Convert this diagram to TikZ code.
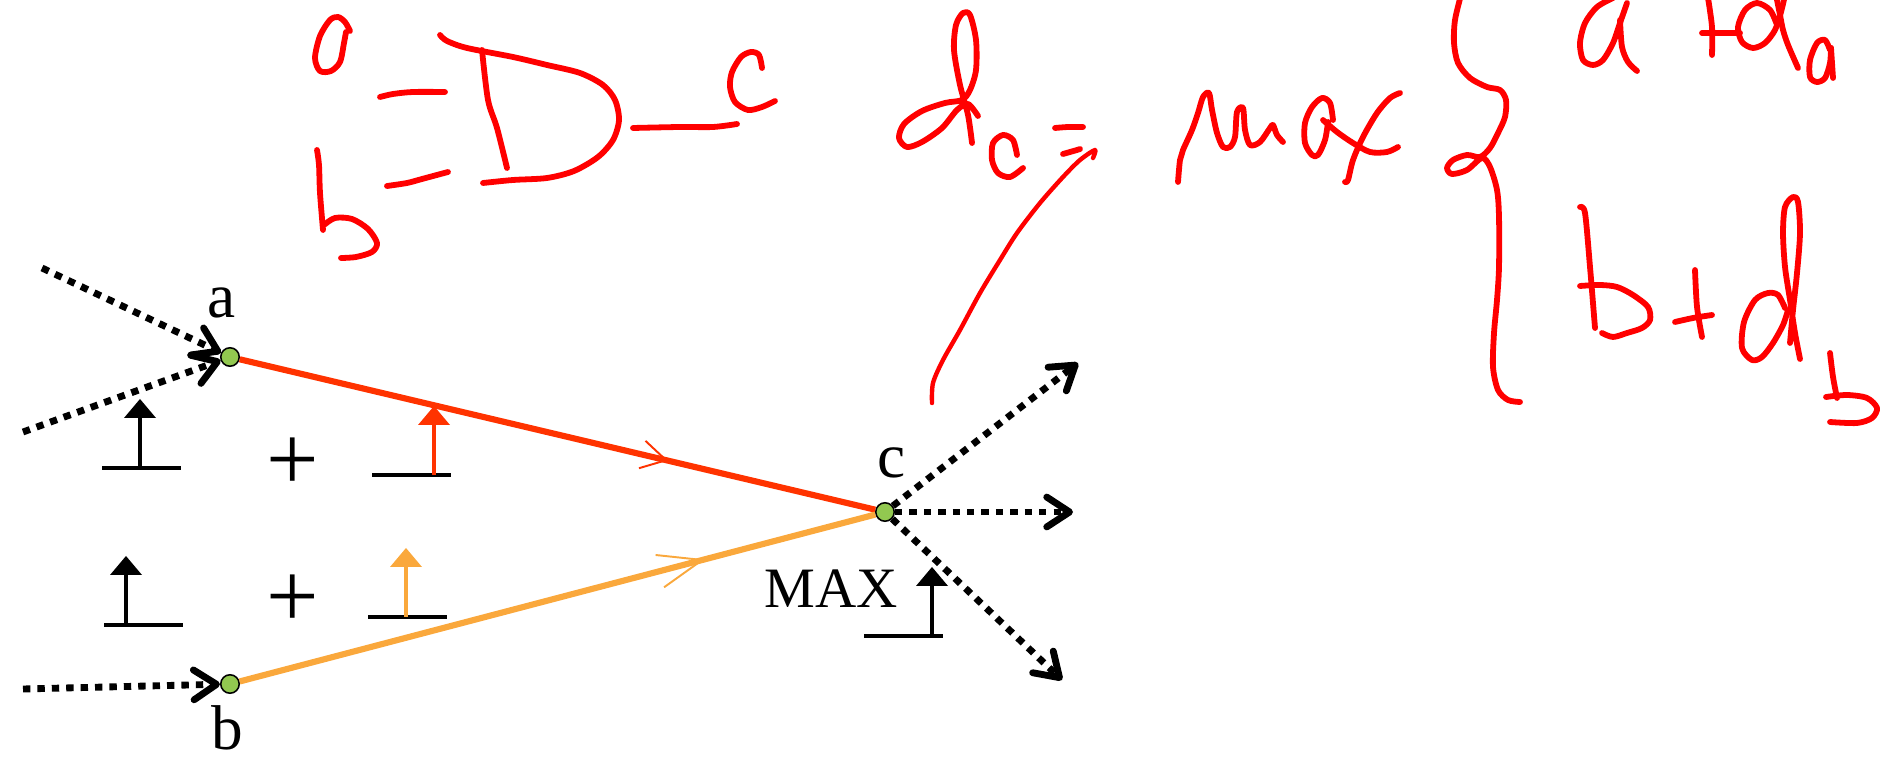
\documentclass[tikz,border=0pt]{standalone}
\usepackage{fontspec}
\setmainfont{Liberation Serif}
\usetikzlibrary{arrows.meta,decorations.markings}

\definecolor{edgered}{RGB}{255,51,0}
\definecolor{edgeorange}{RGB}{250,168,60}
\definecolor{dotgreen}{RGB}{146,200,80}
\definecolor{inkred}{RGB}{255,0,0}

\tikzset{
  gdot/.style={circle, draw=black, fill=dotgreen, line width=0.9pt, minimum size=10.5pt, inner sep=0pt},
  lbl/.style={font=\fontsize{36}{40}\selectfont, inner sep=0pt, anchor=base},
  plus/.style={font=\fontsize{53}{56}\selectfont, inner sep=0pt},
  dotarrow/.style={line width=3.9pt, dash pattern=on 4.2pt off 4pt,
    -{Straight Barb[length=13pt,width=17pt,round]}},
  midmark/.style 2 args={postaction={decorate, decoration={markings,
    mark=at position #1 with {\arrow{#2}}}}},
  redge/.style={edgered, line width=3.5pt,
    midmark={0.674}{Straight Barb[length=14pt,width=16pt,line width=1.1pt]}},
  oedge/.style={edgeorange, line width=3.5pt,
    midmark={0.732}{Straight Barb[length=25pt,width=19pt,line width=1.1pt]}},
  ink/.style={draw=inkred, line width=3.3pt, line cap=round, line join=round},
  thinink/.style={ink, line width=2.5pt},
  pics/stepmark/.style 2 args={code={
    \draw[black, line width=2.6pt] (-#2,0) -- ({79-#2},0);
    \draw[#1, line width=1.9pt] (0,0) -- (0,-52);
    \fill[#1] (-16,-50) -- (16,-50) -- (0,-69) -- cycle;
  }}
}

\begin{document}
\begin{tikzpicture}[x=0.02cm, y=-0.02cm]
  \useasboundingbox (0,0) rectangle (1903,759);

  % Gate inputs and output
  \node[gdot] (a) at (230,357) {};
  \node[gdot] (b) at (230,684) {};
  \node[gdot] (c) at (885,512) {};
  \node[lbl] (alabel) at (222,318) {a};
  \node[lbl] (blabel) at (227,749) {b};
  \node[lbl] (clabel) at (892,478) {c};

  % Incoming and outgoing wires
  \coordinate (ain1) at (42,268);
  \coordinate (ain2) at (23,432);
  \coordinate (bin) at (23,689);
  \coordinate (cout1) at (1078,363);
  \coordinate (cout2) at (1073,512);
  \coordinate (cout3) at (1062,680);
  \draw[dotarrow] (ain1) -- (a);
  \draw[dotarrow] (ain2) -- (a);
  \draw[dotarrow] (bin) -- (b);
  \draw[dotarrow] (c) -- (cout1);
  \draw[dotarrow] (c) -- (cout2);
  \draw[dotarrow] (c) -- (cout3);

  % Paths through the gate
  \draw[redge] (a) -- (c);
  \draw[oedge] (b) -- (c);

  % Arrival times
  \pic at (140,468) {stepmark={black}{38}};
  \node[plus] (plusa) at (293,464) {+};
  \pic at (434,475) {stepmark={edgered}{62}};
  \pic at (126,625) {stepmark={black}{22}};
  \node[plus] (plusb) at (293,601) {+};
  \pic at (406,617) {stepmark={edgeorange}{38}};
  \node[anchor=base west, font=\fontsize{32.5}{36}\selectfont, inner sep=0pt] (maxlabel) at (764,608) {MAX};
  \pic at (932,636) {stepmark={black}{68}};

  % Handwritten gate: a, b -D- c
  \draw[ink] plot[smooth] coordinates {(350,31) (345,22) (338,17) (330,20) (320,36) (315,58) (320,71) (331,71) (340,62) (344,43) (346,32)};
  \draw[ink] plot[smooth] coordinates {(317,150) (319,165) (320,193) (323,230)};
  \draw[ink] plot[smooth] coordinates {(324,225) (335,218) (352,219) (368,229) (377,243) (372,252) (356,257) (341,258)};
  \draw[ink] plot[smooth] coordinates {(380,97) (393,94) (413,92) (445,92)};
  \draw[ink] plot[smooth] coordinates {(387,186) (407,183) (422,179) (448,172)};
  \draw[ink] plot[smooth] coordinates {(482,50) (488,100) (497,128) (507,168)};
  \draw[ink] plot[smooth] coordinates {(440,35) (447,41) (467,48) (513,57) (547,65) (580,73) (603,85) (615,100) (619,120) (613,140) (598,157) (574,171) (547,178) (513,180) (483,183)};
  \draw[ink] plot[smooth] coordinates {(633,128) (680,127) (713,127) (737,124)};
  \draw[ink] plot[smooth] coordinates {(762,68) (759,55) (751,52) (741,57) (732,72) (730,87) (735,102) (748,110) (762,107) (775,101)};

  % Handwritten d_c = max { a+d_a , b+d_b
  \draw[ink] plot[smooth] coordinates {(972,143) (968,115) (960,85) (954,50) (956,25) (963,13) (970,15) (976,40) (976,70) (970,90) (962,100) (945,103) (922,111) (904,124) (899,138) (907,147) (922,142) (942,128) (957,110) (968,104) (978,116)};
  \draw[ink] plot[smooth] coordinates {(1017,155) (1013,140) (1003,135) (993,143) (992,160) (998,173) (1010,177) (1023,168)};
  \draw[ink] plot[smooth] coordinates {(1055,128) (1068,127) (1083,127)};
  \draw[ink] plot[smooth] coordinates {(1063,154) (1077,150) (1080,149)};
  \draw[thinink] plot[smooth] coordinates {(932,403) (933,383) (943,360) (960,330) (980,293) (1000,260) (1017,233) (1040,203) (1063,177) (1080,160) (1095,150) (1093,158)};
  \draw[ink] plot[smooth] coordinates {(1178,182) (1180,160) (1183,150) (1192,130) (1198,113) (1203,97) (1209,93) (1212,110) (1217,133) (1223,147) (1230,147) (1235,137) (1237,112) (1243,108) (1245,130) (1250,145) (1260,142) (1270,128) (1273,125) (1277,135) (1283,142)};
  \draw[ink] plot[smooth] coordinates {(1333,120) (1330,103) (1322,98) (1312,107) (1305,123) (1305,143) (1312,155) (1318,155) (1325,140) (1328,122)};
  \draw[ink] plot[smooth] coordinates {(1323,120) (1337,132) (1353,143) (1370,152) (1387,152) (1398,147)};
  \draw[ink] plot[smooth] coordinates {(1400,93) (1390,98) (1377,113) (1363,137) (1353,160) (1348,180) (1345,182)};
  \draw[ink] plot[smooth] coordinates {(1461,-5) (1455,20) (1454,43) (1458,63) (1470,78) (1487,87) (1500,90) (1506,100) (1505,117) (1498,133) (1490,148) (1480,157) (1467,155) (1453,160) (1447,168) (1452,174) (1467,170) (1482,158) (1490,167) (1497,190) (1499,217) (1499,267) (1497,300) (1494,333) (1493,367) (1498,390) (1508,400) (1520,402)};
  \draw[ink] plot[smooth] coordinates {(1613,-2) (1597,7) (1585,23) (1580,43) (1583,60) (1593,65) (1603,60) (1613,43) (1620,23) (1627,3)};
  \draw[ink] plot[smooth] coordinates {(1620,20) (1622,47) (1628,62) (1637,71)};
  \draw[ink] plot[smooth] coordinates {(1708,-2) (1712,27) (1712,55)};
  \draw[ink] plot[smooth] coordinates {(1702,33) (1740,33)};
  \draw[ink] plot[smooth] coordinates {(1777,25) (1770,10) (1757,3) (1745,10) (1738,27) (1742,42) (1753,48) (1765,43) (1775,30) (1781,12) (1785,-5)};
  \draw[ink] plot[smooth] coordinates {(1776,-5) (1780,15) (1783,30) (1788,45) (1798,68)};
  \draw[ink] plot[smooth] coordinates {(1830,50) (1825,40) (1817,43) (1810,60) (1810,77) (1817,82) (1825,78) (1830,63) (1831,48)};
  \draw[ink] plot[smooth] coordinates {(1831,48) (1833,78)};
  \draw[ink] plot[smooth] coordinates {(1580,207) (1585,213) (1590,267) (1595,328)};
  \draw[ink] plot[smooth] coordinates {(1580,286) (1600,285) (1617,287) (1633,295) (1648,307) (1650,320) (1642,328) (1627,333) (1613,337) (1602,333)};
  \draw[ink] plot[smooth] coordinates {(1695,270) (1697,307) (1702,337)};
  \draw[ink] plot[smooth] coordinates {(1675,322) (1693,318) (1712,315)};
  \draw[ink] plot[smooth] coordinates {(1800,359) (1795,333) (1790,300) (1785,267) (1783,233) (1785,207) (1793,197) (1798,202) (1800,233) (1797,273) (1793,310) (1790,343)};
  \draw[ink] plot[smooth] coordinates {(1785,308) (1778,295) (1768,293) (1755,300) (1744,322) (1742,348) (1752,360) (1762,357) (1773,343) (1783,325) (1788,310)};
  \draw[ink] plot[smooth] coordinates {(1830,353) (1833,377) (1837,398)};
  \draw[ink] plot[smooth] coordinates {(1826,397) (1847,395) (1867,398) (1877,408) (1872,418) (1857,423) (1830,422)};
\end{tikzpicture}
\end{document}
